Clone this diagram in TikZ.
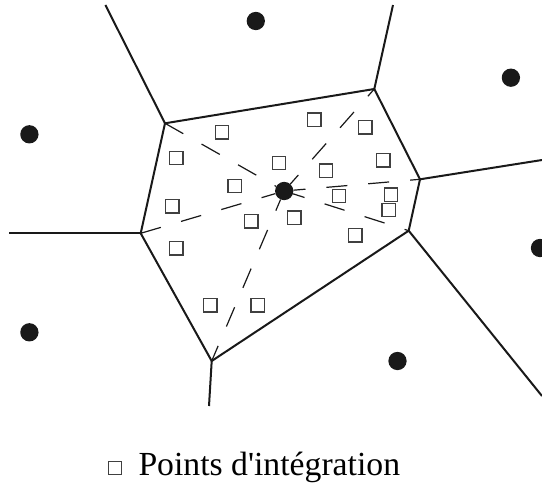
\documentclass[tikz,border=0pt]{standalone}
\usepackage{fontspec}
\setmainfont{Liberation Serif}
\begin{document}
\begin{tikzpicture}[x=1pt,y=-1pt,
  edge/.style={line width=2pt, line join=round, black!90},
  spoke/.style={dash pattern=on 21pt off 21pt, line width=1.2pt, black!90},
  site/.style={circle, fill=black!90, minimum size=18.3pt, inner sep=0pt},
  ipt/.style={rectangle, draw=black!75, line width=1.2pt, minimum size=13.3pt, inner sep=0pt},
]
\useasboundingbox (0,0) rectangle (542,490);
% cell vertices
\coordinate (V1) at (165,123.3);
\coordinate (V2) at (374.3,89);
\coordinate (V3) at (420,179.3);
\coordinate (V4) at (408.7,230.7);
\coordinate (V5) at (211.7,361);
\coordinate (V6) at (140.7,233.3);
% ray ends
\coordinate (E1) at (105.4,5);
\coordinate (E2) at (393,5);
\coordinate (E3) at (542,160);
\coordinate (E4) at (542,396);
\coordinate (E5) at (209,406);
\coordinate (E6) at (9.3,233.3);
% sites
\node[site] (C) at (284.2,191) {};
\node[site] (S1) at (255.8,21) {};
\node[site] (S2) at (510.9,77.7) {};
\node[site] (S3) at (29.4,134.3) {};
\node[site] (S4) at (540,248) {};
\node[site] (S5) at (29.4,332.3) {};
\node[site] (S6) at (397.5,361) {};
% cell edges
\draw[edge] (V1) -- (V2) -- (V3) -- (V4) -- (V5) -- (V6) -- cycle;
\draw[edge] (V1) -- (E1);
\draw[edge] (V2) -- (E2);
\draw[edge] (V3) -- (E3);
\draw[edge] (V4) -- (E4);
\draw[edge] (V5) -- (E5);
\draw[edge] (V6) -- (E6);
% dashed spokes
\draw[spoke] (V1) -- (C);
\draw[spoke] (V6) -- (C);
\draw[spoke, dash phase=9pt] (C) -- (V2);
\draw[spoke, dash phase=9pt] (C) -- (V3);
\draw[spoke, dash phase=9pt] (C) -- (V4);
\draw[spoke, dash phase=9pt] (C) -- (V5);
% integration points
\node[ipt] (q1) at (222,132.3) {};
\node[ipt] (q2) at (314.3,119.7) {};
\node[ipt] (q3) at (365.3,127.3) {};
\node[ipt] (q4) at (176.3,158) {};
\node[ipt] (q5) at (279,163) {};
\node[ipt] (q6) at (326,170.7) {};
\node[ipt] (q7) at (383.3,160.3) {};
\node[ipt] (q8) at (234.7,186) {};
\node[ipt] (q9) at (172.3,206.3) {};
\node[ipt] (q10) at (339,196) {};
\node[ipt] (q11) at (391,194.7) {};
\node[ipt] (q12) at (388.7,210) {};
\node[ipt] (q13) at (251.3,221.3) {};
\node[ipt] (q14) at (294.3,217.7) {};
\node[ipt] (q15) at (176.3,248.3) {};
\node[ipt] (q16) at (355.3,235.3) {};
\node[ipt] (q17) at (210.3,305.3) {};
\node[ipt] (q18) at (257.7,305.3) {};
% legend
\node[ipt, line width=1pt] (legsq) at (115,468.3) {};
\node[anchor=base west, inner sep=0pt, font=\fontsize{33.7}{40}\selectfont] (legtxt) at (138.3,475) {Points d\textquotesingle intégration};
\end{tikzpicture}
\end{document}
